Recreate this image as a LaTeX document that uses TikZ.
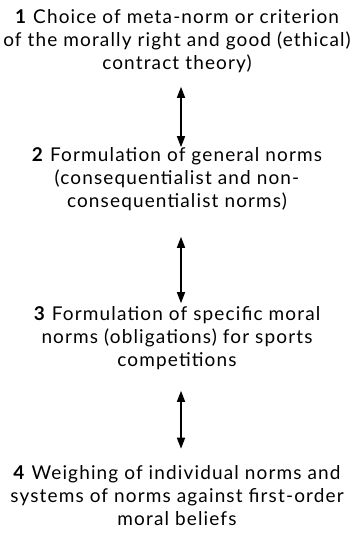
\documentclass[tikz,border=0pt]{standalone}
\usepackage{fontspec}
\setmainfont{Lato}[LetterSpace=6]
\usetikzlibrary{arrows.meta}

\tikzset{
  level/.style={align=center, inner sep=0pt, font=\fontsize{19}{23}\selectfont},
  link/.style={{Triangle[width=8pt,length=11pt]}-{Triangle[width=8pt,length=11pt]}, line width=1.6pt}
}

\begin{document}
\begin{tikzpicture}[x=1pt, y=-1pt]
    \useasboundingbox (0,0) rectangle (354,533);
    % Draw the four levels
    \node[level] (meta) at (177,41) {\textbf{1} Choice of meta-norm or criterion\\of the morally right and good (ethical)\\contract theory)};
    \node[level] (general) at (177,179) {\textbf{2} Formulation of general norms\\(consequentialist and non-\\consequentialist norms)};
    \node[level] (specific) at (177,338) {\textbf{3} Formulation of specific moral\\norms (obligations) for sports\\competitions};
    \node[level] (weigh) at (177,496) {\textbf{4} Weighing of individual norms and\\systems of norms against first-order\\moral beliefs};
    % Draw the arrows between levels
    \draw[link, shorten <=14pt, shorten >=0pt] ([xshift=4pt]meta.south) -- ([xshift=4pt]general.north);
    \draw[link, shorten <=26pt, shorten >=3pt] ([xshift=4pt]general.south) -- ([xshift=4pt]specific.north);
    \draw[link, shorten <=21pt, shorten >=17pt] ([xshift=4pt]specific.south) -- ([xshift=4pt]weigh.north);
\end{tikzpicture}
\end{document}
